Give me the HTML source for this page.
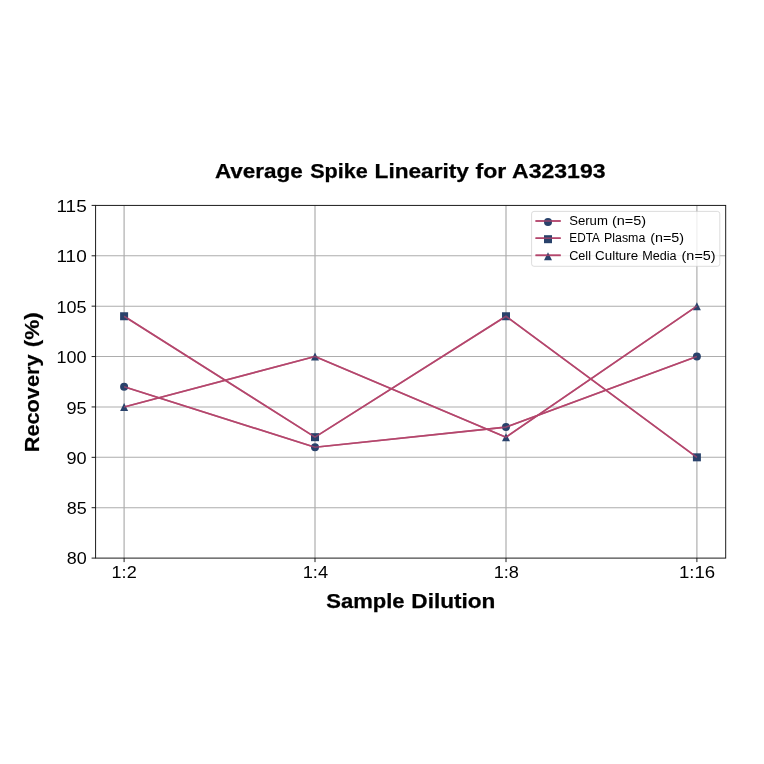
<!DOCTYPE html>
<html lang="en">
<head>
<meta charset="utf-8">
<title>Average Spike Linearity for A323193</title>
<style>
html,body{margin:0;padding:0;background:#ffffff;}
body{width:764px;height:764px;position:relative;overflow:hidden;font-family:"Liberation Sans",sans-serif;}
.labels{position:absolute;left:0;top:0;width:764px;height:764px;filter:grayscale(1);will-change:transform;}
.ln{position:absolute;left:0;top:0;width:0;height:0;line-height:1;white-space:nowrap;}
.t{position:absolute;left:0;top:0;display:block;white-space:nowrap;line-height:1;transform-origin:0 0;}
</style>
</head>
<body>
<svg width="764" height="764" viewBox="0 0 764 764" style="position:absolute;left:0;top:0">
<path d="M124.10 205.40V558.10M315.00 205.40V558.10M506.00 205.40V558.10M696.90 205.40V558.10" stroke="#adadad" stroke-width="1.18" fill="none"/>
<path d="M95.60 507.71H725.70M95.60 457.33H725.70M95.60 406.94H725.70M95.60 356.56H725.70M95.60 306.17H725.70M95.60 255.79H725.70" stroke="#adadad" stroke-width="1.05" fill="none"/>
<polyline points="124.10,386.79 315.00,447.25 506.00,427.10 696.90,356.56" fill="none" stroke="#b4466c" stroke-width="1.65" stroke-linejoin="round"/>
<polyline points="124.10,316.25 315.00,437.17 506.00,316.25 696.90,457.33" fill="none" stroke="#b4466c" stroke-width="1.65" stroke-linejoin="round"/>
<polyline points="124.10,406.94 315.00,356.56 506.00,437.17 696.90,306.17" fill="none" stroke="#b4466c" stroke-width="1.65" stroke-linejoin="round"/>
<g fill="#29426b"><circle cx="124.10" cy="386.79" r="4.00"/><circle cx="315.00" cy="447.25" r="4.00"/><circle cx="506.00" cy="427.10" r="4.00"/><circle cx="696.90" cy="356.56" r="4.00"/><rect x="120.10" y="312.25" width="8.00" height="8.00"/><rect x="311.00" y="433.17" width="8.00" height="8.00"/><rect x="502.00" y="312.25" width="8.00" height="8.00"/><rect x="692.90" y="453.33" width="8.00" height="8.00"/><path d="M124.10 402.94L128.10 410.94L120.10 410.94Z"/><path d="M315.00 352.56L319.00 360.56L311.00 360.56Z"/><path d="M506.00 433.17L510.00 441.17L502.00 441.17Z"/><path d="M696.90 302.17L700.90 310.17L692.90 310.17Z"/></g>
<polyline points="124.10,386.79 315.00,447.25 506.00,427.10 696.90,356.56" fill="none" stroke="#b4466c" stroke-opacity="0.7" stroke-width="1.65" stroke-linejoin="round"/>
<polyline points="124.10,316.25 315.00,437.17 506.00,316.25 696.90,457.33" fill="none" stroke="#b4466c" stroke-opacity="0.7" stroke-width="1.65" stroke-linejoin="round"/>
<polyline points="124.10,406.94 315.00,356.56 506.00,437.17 696.90,306.17" fill="none" stroke="#b4466c" stroke-opacity="0.7" stroke-width="1.65" stroke-linejoin="round"/>
<path d="M124.10 558.10v4.0M315.00 558.10v4.0M506.00 558.10v4.0M696.90 558.10v4.0M95.60 558.10h-4.0M95.60 507.71h-4.0M95.60 457.33h-4.0M95.60 406.94h-4.0M95.60 356.56h-4.0M95.60 306.17h-4.0M95.60 255.79h-4.0M95.60 205.40h-4.0" stroke="#111" stroke-width="0.95" fill="none"/>
<rect x="95.60" y="205.40" width="630.10" height="352.70" fill="none" stroke="#111" stroke-width="0.95"/>
<rect x="531.6" y="211.4" width="188.20" height="54.90" rx="2.4" fill="#fff" fill-opacity="0.8" stroke="#cccccc" stroke-opacity="0.7" stroke-width="0.95"/>
<path d="M535.5 221.0H560.7" stroke="#b4466c" stroke-width="1.65" fill="none"/>
<g fill="#29426b"><circle cx="548.00" cy="222.00" r="4.00"/></g>
<path d="M535.5 221.0H560.7" stroke="#b4466c" stroke-opacity="0.7" stroke-width="1.65" fill="none"/>
<path d="M535.5 238.2H560.7" stroke="#b4466c" stroke-width="1.65" fill="none"/>
<g fill="#29426b"><rect x="544.00" y="235.20" width="8.00" height="8.00"/></g>
<path d="M535.5 238.2H560.7" stroke="#b4466c" stroke-opacity="0.7" stroke-width="1.65" fill="none"/>
<path d="M535.5 255.3H560.7" stroke="#b4466c" stroke-width="1.65" fill="none"/>
<g fill="#29426b"><path d="M548.00 252.30L552.00 260.30L544.00 260.30Z"/></g>
<path d="M535.5 255.3H560.7" stroke="#b4466c" stroke-opacity="0.7" stroke-width="1.65" fill="none"/>
</svg>
<div class="labels">
<div class="ln" style="font-size:20.00px;font-weight:700;color:#000;-webkit-text-stroke:0.25px #000;"><span class="t" style="transform:translate(214.93px,161px) scaleX(1.1244)">Average</span> <span class="t" style="transform:translate(310.15px,161px) scaleX(1.0799)">Spike</span> <span class="t" style="transform:translate(374.58px,161px) scaleX(1.1318)">Linearity</span> <span class="t" style="transform:translate(475.54px,161px) scaleX(1.1543)">for</span> <span class="t" style="transform:translate(512.08px,161px) scaleX(1.1507)">A323193</span></div>
<div class="ln" style="font-size:20.00px;font-weight:700;color:#000;-webkit-text-stroke:0.25px #000;"><span class="t" style="transform:translate(326.24px,591px) scaleX(1.1004)">Sample</span> <span class="t" style="transform:translate(411.35px,591px) scaleX(1.1291)">Dilution</span></div>
<div class="ln" style="font-size:20.00px;font-weight:700;color:#000;-webkit-text-stroke:0.17px #000;"><span class="t" style="transform:translate(22.10px,452.22px) rotate(-90deg) scaleX(1.0844)">Recovery</span> <span class="t" style="transform:translate(22.10px,347.23px) rotate(-90deg) scaleX(1.1270)">(%)</span></div>
<div class="ln" style="font-size:17.20px;font-weight:400;color:#000;"><span class="t" style="transform:translate(56.48px,198px) scaleX(1.1035)">115</span></div>
<div class="ln" style="font-size:17.20px;font-weight:400;color:#000;"><span class="t" style="transform:translate(56.48px,248px) scaleX(1.1035)">110</span></div>
<div class="ln" style="font-size:17.20px;font-weight:400;color:#000;"><span class="t" style="transform:translate(56.56px,299px) scaleX(1.0465)">105</span></div>
<div class="ln" style="font-size:17.20px;font-weight:400;color:#000;"><span class="t" style="transform:translate(56.56px,349px) scaleX(1.0465)">100</span></div>
<div class="ln" style="font-size:17.20px;font-weight:400;color:#000;"><span class="t" style="transform:translate(66.49px,400px) scaleX(1.0545)">95</span></div>
<div class="ln" style="font-size:17.20px;font-weight:400;color:#000;"><span class="t" style="transform:translate(66.49px,450px) scaleX(1.0545)">90</span></div>
<div class="ln" style="font-size:17.20px;font-weight:400;color:#000;"><span class="t" style="transform:translate(66.68px,500px) scaleX(1.0443)">85</span></div>
<div class="ln" style="font-size:17.20px;font-weight:400;color:#000;"><span class="t" style="transform:translate(66.68px,550px) scaleX(1.0443)">80</span></div>
<div class="ln" style="font-size:17.20px;font-weight:400;color:#000;"><span class="t" style="transform:translate(111.55px,564px) scaleX(1.0520)">1:2</span></div>
<div class="ln" style="font-size:17.20px;font-weight:400;color:#000;"><span class="t" style="transform:translate(302.64px,564px) scaleX(1.0629)">1:4</span></div>
<div class="ln" style="font-size:17.20px;font-weight:400;color:#000;"><span class="t" style="transform:translate(493.64px,564px) scaleX(1.0575)">1:8</span></div>
<div class="ln" style="font-size:17.20px;font-weight:400;color:#000;"><span class="t" style="transform:translate(678.91px,564px) scaleX(1.0829)">1:16</span></div>
<div class="ln" style="font-size:12.50px;font-weight:400;color:#000;"><span class="t" style="transform:translate(569.14px,215px) scaleX(1.0525)">Serum</span> <span class="t" style="transform:translate(611.97px,215px) scaleX(1.1592)">(n=5)</span></div>
<div class="ln" style="font-size:12.50px;font-weight:400;color:#000;"><span class="t" style="transform:translate(569.36px,232px) scaleX(0.9446)">EDTA</span> <span class="t" style="transform:translate(603.99px,232px) scaleX(0.9911)">Plasma</span> <span class="t" style="transform:translate(650.22px,232px) scaleX(1.1470)">(n=5)</span></div>
<div class="ln" style="font-size:12.50px;font-weight:400;color:#000;"><span class="t" style="transform:translate(569.17px,250px) scaleX(1.0137)">Cell</span> <span class="t" style="transform:translate(595.07px,250px) scaleX(1.0701)">Culture</span> <span class="t" style="transform:translate(642.21px,250px) scaleX(1.0100)">Media</span> <span class="t" style="transform:translate(681.57px,250px) scaleX(1.1522)">(n=5)</span></div>
</div>
</body>
</html>
